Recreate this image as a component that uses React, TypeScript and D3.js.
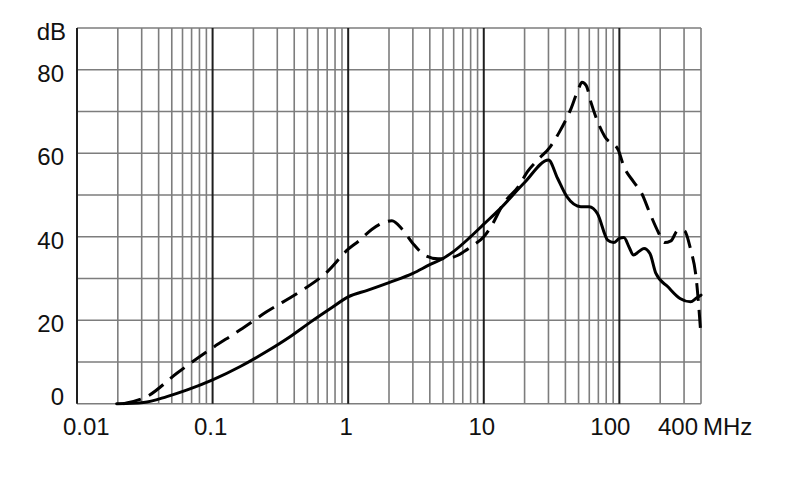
import * as d3 from "d3";

// frequency in MHz, attenuation in dB
const solidFreq = [0.0196, 0.031, 0.046, 0.065, 0.1, 0.16, 0.25, 0.37, 0.53, 0.74, 1, 1.4, 2, 3, 4, 5, 6, 8, 10, 13, 20, 30, 35, 41, 52, 60, 69, 82, 91, 100, 108, 118, 127, 140, 152, 168, 186, 228, 280, 335, 370, 400];
const solidDb = [0, 0.3, 1.7, 3.3, 5.7, 8.9, 12.5, 16, 19.6, 22.8, 25.6, 27.2, 29, 31.2, 33.3, 34.8, 36.5, 40, 43, 46.5, 53, 58.4, 54, 49.6, 47.2, 47.2, 45.5, 39.2, 38.6, 39.6, 39.8, 37.5, 35.6, 36.5, 37.2, 36, 31.2, 28, 25.2, 24.4, 25.3, 26];

const dashedFreq = [0.022, 0.0327, 0.0545, 0.091, 0.16, 0.25, 0.44, 0.7, 1, 1.2, 1.5, 1.8, 2.1, 2.5, 3, 3.7, 4.6, 5.6, 6.4, 7.2, 8.4, 10, 11.3, 14, 18, 21, 25, 31, 36, 44, 50, 53, 57, 62, 78, 98, 108, 127, 146, 168, 193, 215, 240, 270, 300, 335, 370, 390, 400];
const dashedDb = [0, 1.7, 7.3, 12.5, 17.7, 22, 26.8, 31.6, 37, 39, 41.8, 43.3, 43.8, 41.8, 38.4, 35.5, 34.7, 34.9, 35.5, 36.5, 38, 40, 42.4, 48, 52, 55.6, 58.4, 61.6, 65, 70.7, 75.5, 77, 76.2, 72, 64, 60.8, 56.8, 53.2, 50.4, 45.6, 41.2, 38.6, 39, 41.5, 41.5, 37, 29.6, 21, 16];

const yTicks = [0, 20, 40, 60, 80];
const xTickValues = [0.01, 0.1, 1, 10, 100, 400];
const xTickLabels = ["0.01", "0.1", "1", "10", "100", "400"];
const decades = [0.01, 0.1, 1, 10, 100];

export default function App() {
  const width = 790;
  const height = 499;

  const x = d3.scaleLog().domain([0.01, 400]).range([77, 701]);
  const y = d3.scaleLinear().domain([0, 90]).range([403.7, 28]);

  const minorLines: number[] = [];
  decades.forEach((d) => {
    for (let m = 2; m <= 9; m++) if (d * m <= 400) minorLines.push(d * m);
  });

  const hLines = d3.range(0, 100, 10);

  const line = d3
    .line<[number, number]>()
    .x((d) => x(d[0]))
    .y((d) => y(d[1]))
    .curve(d3.curveMonotoneX);

  const solid = line(solidFreq.map((f, i) => [f, solidDb[i]]));
  const dashed = line(dashedFreq.map((f, i) => [f, dashedDb[i]]));

  const font = { fontFamily: "'Liberation Sans', Arial, sans-serif", fontSize: 24, fill: "#111" };

  const labelX = (i: number) => {
    const v = x(xTickValues[i]);
    if (i === 0) return v - 14;
    if (i === 4) return v - 9;
    if (i === 5) return v - 3;
    return v - 2;
  };
  const anchor = (i: number) => (i === 0 ? "start" : i === 5 ? "end" : "middle");

  return (
    <div style={{ position: "fixed", left: 0, top: 0 }}>
      <svg width={width} height={height} style={{ display: "block", background: "#fff" }}>
        {hLines.map((v) => (
          <line key={"h" + v} x1={x(0.01)} x2={x(400)} y1={y(v)} y2={y(v)} stroke="#7d7d7d" strokeWidth={1.6} />
        ))}
        {minorLines.map((v) => (
          <line key={"m" + v} x1={x(v)} x2={x(v)} y1={y(0)} y2={y(90)} stroke="#7d7d7d" strokeWidth={1.6} />
        ))}
        {decades.map((v) => (
          <line key={"d" + v} x1={x(v)} x2={x(v)} y1={y(0)} y2={y(90)} stroke="#1e1e1e" strokeWidth={2} />
        ))}

        <path d={solid ?? ""} fill="none" stroke="#000" strokeWidth={3} strokeLinejoin="round" strokeLinecap="round" />
        <path d={dashed ?? ""} fill="none" stroke="#000" strokeWidth={3} strokeDasharray="18 9" strokeLinejoin="round" />

        {yTicks.map((v) => (
          <text key={"y" + v} x={64} y={y(v) + (v === 0 ? 1 : 12)} textAnchor="end" style={font}>
            {v}
          </text>
        ))}
        <text x={66} y={40} textAnchor="end" style={font}>
          dB
        </text>

        {xTickLabels.map((t, i) => (
          <text key={"x" + t} x={labelX(i)} y={435} textAnchor={anchor(i)} style={font}>
            {t}
          </text>
        ))}
        <text x={x(400) + 2} y={435} style={font}>
          MHz
        </text>
      </svg>
    </div>
  );
}
